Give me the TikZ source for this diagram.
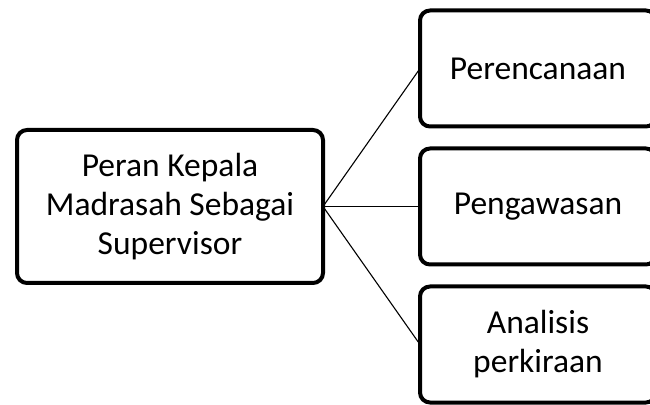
\documentclass[tikz,border=0pt]{standalone}
\usepackage{fontspec}
\setmainfont{Carlito}
\usetikzlibrary{positioning}

\begin{document}
\begin{tikzpicture}[
    box/.style={draw, line width=4pt, rounded corners=10pt, align=center,
        inner sep=0pt, outer sep=0pt, font=\fontsize{33.5}{39}\selectfont},
    sub/.style={box, minimum width=236pt, minimum height=116pt},
    link/.style={line width=1.1pt}
]
    \clip (0,0) rectangle (650pt,404pt);
    \useasboundingbox (0,0) rectangle (650pt,404pt);

    % Main node
    \node[box, minimum width=306pt, minimum height=153pt] (peran) at (170pt,197.5pt)
        {Peran Kepala\\Madrasah Sebagai\\Supervisor};

    % Sub nodes
    \node[sub, right=97pt of peran] (pengawasan) {Pengawasan};
    \node[sub, above=22pt of pengawasan] (perencanaan) {Perencanaan};
    \node[sub, below=22pt of pengawasan] (analisis) {Analisis\\perkiraan};

    % Connections
    \draw[link] (peran.east) -- (perencanaan.west);
    \draw[link] (peran.east) -- (pengawasan.west);
    \draw[link] (peran.east) -- (analisis.west);
\end{tikzpicture}
\end{document}
